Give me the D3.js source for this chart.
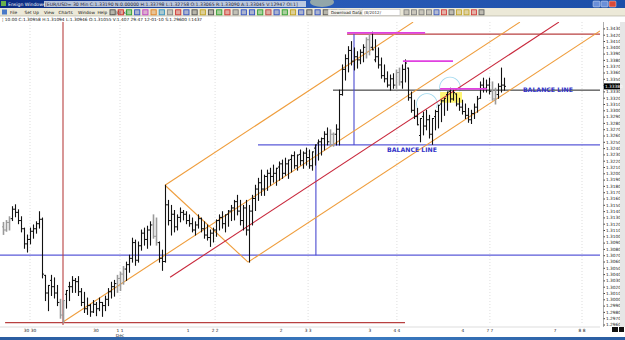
<!DOCTYPE html>
<html><head><meta charset="utf-8">
<script src="https://cdn.jsdelivr.net/npm/d3@7"></script>
<style>
body{margin:0;background:#fff;overflow:hidden}
svg{display:block}
text{font-family:"DejaVu Sans",Arial,sans-serif}
</style>
</head><body>
<svg id="c" width="625" height="340"></svg>
<script>
// ---------- DATA ----------
const highs=[1.3122,1.3125,1.3131,1.3147,1.3150,1.3142,1.3131,1.3113,1.3102,1.3113,
1.3118,1.3123,1.3139,1.3129,1.3038,1.3022,1.3038,1.3034,1.3022,1.3000,
1.2998,1.3014,1.3027,1.3036,1.3033,1.3036,1.3017,1.3011,1.3002,1.2992,
1.2998,1.2995,1.3002,1.2995,1.3005,1.3017,1.3027,1.3030,1.3038,1.3043,
1.3052,1.3059,1.3070,1.3097,1.3094,1.3091,1.3110,1.3113,1.3116,1.3123,
1.3134,1.3129,1.3091,1.3078,1.3181,1.3157,1.3149,1.3141,1.3134,1.3145,
1.3141,1.3139,1.3134,1.3129,1.3123,1.3134,1.3129,1.3123,1.3118,1.3110,
1.3113,1.3126,1.3134,1.3139,1.3134,1.3141,1.3149,1.3157,1.3165,1.3157,
1.3149,1.3157,1.3149,1.3165,1.3181,1.3192,1.3205,1.3197,1.3205,1.3208,
1.3213,1.3208,1.3218,1.3221,1.3224,1.3221,1.3229,1.3234,1.3229,1.3237,
1.3234,1.3240,1.3237,1.3234,1.3245,1.3253,1.3256,1.3266,1.3272,1.3269,
1.3264,1.3277,1.3332,1.3372,1.3388,1.3401,1.3409,1.3399,1.3393,1.3396,
1.3404,1.3415,1.3420,1.3424,1.3412,1.3399,1.3383,1.3372,1.3361,1.3356,
1.3358,1.3364,1.3367,1.3372,1.3380,1.3367,1.3329,1.3316,1.3303,1.3287,
1.3297,1.3300,1.3292,1.3287,1.3300,1.3308,1.3316,1.3319,1.3329,1.3335,
1.3332,1.3326,1.3319,1.3316,1.3310,1.3303,1.3300,1.3310,1.3322,1.3345,
1.3351,1.3348,1.3351,1.3345,1.3335,1.3342,1.3367,1.3351];
const lows=[1.3103,1.3108,1.3110,1.3125,1.3131,1.3120,1.3107,1.3081,1.3075,1.3088,
1.3097,1.3105,1.3113,1.3034,1.2998,1.2982,1.3006,1.3002,1.2990,1.2970,
1.2963,1.2986,1.2998,1.3011,1.3011,1.3006,1.2990,1.2979,1.2976,1.2973,
1.2979,1.2974,1.2982,1.2973,1.2982,1.2990,1.3002,1.3005,1.3011,1.3014,
1.3024,1.3030,1.3043,1.3059,1.3054,1.3059,1.3078,1.3086,1.3081,1.3086,
1.3097,1.3086,1.3059,1.3046,1.3059,1.3118,1.3102,1.3107,1.3110,1.3123,
1.3126,1.3120,1.3116,1.3107,1.3102,1.3113,1.3107,1.3097,1.3094,1.3084,
1.3091,1.3100,1.3110,1.3113,1.3107,1.3116,1.3125,1.3126,1.3134,1.3118,
1.3110,1.3102,1.3059,1.3118,1.3141,1.3157,1.3165,1.3165,1.3173,1.3181,
1.3186,1.3181,1.3189,1.3192,1.3197,1.3192,1.3202,1.3208,1.3205,1.3213,
1.3208,1.3213,1.3208,1.3205,1.3213,1.3221,1.3229,1.3237,1.3245,1.3243,
1.3243,1.3245,1.3245,1.3324,1.3348,1.3361,1.3372,1.3364,1.3367,1.3374,
1.3377,1.3383,1.3388,1.3396,1.3377,1.3367,1.3351,1.3345,1.3337,1.3332,
1.3335,1.3335,1.3340,1.3335,1.3345,1.3316,1.3297,1.3287,1.3277,1.3250,
1.3261,1.3269,1.3256,1.3246,1.3269,1.3272,1.3282,1.3292,1.3300,1.3313,
1.3316,1.3307,1.3300,1.3294,1.3287,1.3281,1.3279,1.3287,1.3297,1.3319,
1.3329,1.3329,1.3326,1.3316,1.3310,1.3319,1.3329,1.3332];
const closes=[1.3110,1.3122,1.3128,1.3143,1.3138,1.3125,1.3112,1.3088,1.3095,1.3108,
1.3112,1.3120,1.3127,1.3040,1.3010,1.3030,1.3020,1.3010,1.2995,1.2975,
1.3008,1.3020,1.3020,1.3030,1.3028,1.3012,1.2995,1.2985,1.2990,1.2980,
1.2992,1.2985,1.2995,1.2990,1.3000,1.3012,1.3020,1.3025,1.3033,1.3040,
1.3048,1.3055,1.3065,1.3090,1.3062,1.3085,1.3105,1.3095,1.3110,1.3118,
1.3100,1.3090,1.3065,1.3060,1.3150,1.3125,1.3135,1.3115,1.3130,1.3138,
1.3135,1.3125,1.3120,1.3110,1.3118,1.3128,1.3112,1.3102,1.3098,1.3105,
1.3110,1.3125,1.3130,1.3120,1.3135,1.3140,1.3145,1.3155,1.3140,1.3125,
1.3145,1.3110,1.3140,1.3160,1.3175,1.3185,1.3175,1.3195,1.3200,1.3195,
1.3200,1.3210,1.3215,1.3200,1.3215,1.3222,1.3228,1.3212,1.3230,1.3220,
1.3232,1.3225,1.3212,1.3240,1.3248,1.3250,1.3255,1.3262,1.3250,1.3262,
1.3262,1.3270,1.3325,1.3365,1.3382,1.3395,1.3378,1.3385,1.3380,1.3392,
1.3400,1.3412,1.3400,1.3380,1.3385,1.3372,1.3355,1.3350,1.3340,1.3350,
1.3340,1.3360,1.3345,1.3365,1.3375,1.3320,1.3300,1.3290,1.3260,1.3290,
1.3275,1.3285,1.3262,1.3290,1.3298,1.3310,1.3315,1.3325,1.3330,1.3318,
1.3328,1.3310,1.3305,1.3298,1.3292,1.3285,1.3295,1.3305,1.3318,1.3340,
1.3335,1.3340,1.3330,1.3318,1.3325,1.3338,1.3340,1.3338];
const firstOpen=1.3115;
const grayBars=[0,1,2,19,20,38,39,40,50,51,109,110,121,122,131,132,163,164];

// x-axis (bar index) labels
const xTickIdx=[9,31,39,61.7,70.7,92.7,101.7,122.3,131.3,153.3,162.3,184,193];
const xTickLabels=["30 30","30","1 1","1","2 2","2","3 3","3","4 4","4","7 7","7","8 8"];
const daySeparators=[9,39,70.7,101.7,131.3,162.3,193];
const monthLabel={idx:39,text:"Dec"};

// drawn study lines (bar index, price)
const channelLines=[[[20,1.2964],[172.3,1.3440]],[[54,1.3181],[136.7,1.3440]],[[81.7,1.3059],[199,1.3426]]];
const handleLine=[[54,1.3181],[81.7,1.3059]];
const medianLine=[[55.7,1.3035],[185.3,1.3440]];
const redVerticalIdx=20;
const redHLines=[{p:1.2963,a:0.7,b:134},{p:1.3421,a:114.7,b:199}];
const blueHLines=[{p:1.3070,a:-1,b:199},{p:1.3245,a:85,b:199}];
const blackHLines=[{p:1.3332,a:110,b:199}];
const blueVLines=[{i:117,p1:1.3421,p2:1.3245},{i:104.3,p1:1.3245,p2:1.3070}];
const magentaLines=[{p:1.3423,a:114.7,b:140.7},{p:1.3378,a:133.3,b:150},{p:1.3334,a:145.7,b:161.3}];
const yellowBox={a:145.7,b:153,p1:1.3312,p2:1.3329};
const circles=[[141.3,1.3310],[149,1.3336]];
const balanceLabels=[{i:128,p:1.3237,t:"BALANCE LINE"},{i:173.3,p:1.3333,t:"BALANCE LINE"}];
const lastPrice=1.3338;

const titleText="Ensign Windows - [EUR/USD= 30 Min C:1.33190 N:0.00000 H:1.33798 L:1.32758 O:1.33065 R:1.33090 A:1.33045 V:12947 OI:1]";
const menuItems=["File","Set Up","View","Charts","Window","Help"];
const infoText="10:00   C:1.30958   H:1.31094   L:1.30946   O:1.31055   V:1.407   29:47   12-01-10   S:1.29600   I:1437";

// ---------- DRAW ----------
const svg=d3.select("#c");
const W=625,H=340;
const plotL=0,plotR=600,plotT=22,plotB=325;

const x=d3.scaleLinear().domain([0,199]).range([3,600]);
const y=d3.scaleLinear().domain([1.2950,1.3430]).range([330.8,28.4]);

// header
const defs=svg.append("defs");
const g1=defs.append("linearGradient").attr("id","tb").attr("x1",0).attr("x2",1);
g1.append("stop").attr("offset","0").attr("stop-color","#0a2a80");
g1.append("stop").attr("offset","0.5").attr("stop-color","#2a5cb8");
g1.append("stop").attr("offset","1").attr("stop-color","#1b4ea8");
svg.append("rect").attr("x",0).attr("y",0).attr("width",W).attr("height",8).attr("fill","url(#tb)");
svg.append("ellipse").attr("cx",322).attr("cy",2).attr("rx",12).attr("ry",5).attr("fill","#d8d8a0").attr("opacity",0.6);
svg.append("rect").attr("x",1).attr("y",1).attr("width",5).attr("height",5).attr("fill","#6ab04c");
svg.append("rect").attr("x",44).attr("y",1).attr("width",262).attr("height",6).attr("fill","#d6dde8").attr("opacity",0.85);
svg.append("text").attr("x",8).attr("y",6).attr("font-size",4.6).attr("fill","#fff").text("Ensign Windows - ");
svg.append("text").attr("x",45).attr("y",6).attr("font-size",4.6).attr("fill","#223").text(titleText.slice(17));
[["#6a8fd8",593],["#6a8fd8",601],["#d84a3a",609]].forEach(([c,xx])=>{
  svg.append("rect").attr("x",xx).attr("y",1).attr("width",7).attr("height",6).attr("rx",1).attr("fill",c).attr("stroke","#fff").attr("stroke-width",0.4);
});
svg.append("rect").attr("x",0).attr("y",8).attr("width",W).attr("height",8).attr("fill","#ece9d8");
svg.append("line").attr("x1",0).attr("x2",W).attr("y1",16).attr("y2",16).attr("stroke","#aca899").attr("stroke-width",0.6);
let mx=10;
svg.append("rect").attr("x",2).attr("y",9.5).attr("width",5).attr("height",5).attr("fill","#4a7ac8");
menuItems.forEach(m=>{
  svg.append("text").attr("x",mx).attr("y",14).attr("font-size",4.3).attr("fill","#111").text(m);
  mx+=m.length*2.4+5;
});
svg.append("text").attr("x",mx).attr("y",14).attr("font-size",4.3).attr("fill","#111").text("_ |ð| ×|");
const iconColors=["#555","#d03030","#30a030","#3050c0","#c040c0","#e08020","#3090c0","#888","#d03030","#3050c0","#555","#c0a020","#555","#30a030","#d03030",
"#777","#3050c0","#3050c0","#30a030","#c04040","#3050c0","#30a030","#c0a020","#3050c0","#555","#3050c0","#555",
"#444","#30a030"];
iconColors.forEach((c,k)=>{
  const ix=110+k*8.2;
  svg.append("rect").attr("x",ix).attr("y",9.8).attr("width",5.2).attr("height",5).attr("fill",c).attr("fill-opacity",0.35).attr("stroke",c).attr("stroke-width",0.9);
});
svg.append("rect").attr("x",328).attr("y",9.2).attr("width",32).attr("height",6.3).attr("fill","#f4f3ee").attr("stroke","#999").attr("stroke-width",0.4);
svg.append("text").attr("x",331).attr("y",14).attr("font-size",4).attr("fill","#111").text("Download Data");
svg.append("rect").attr("x",362).attr("y",9.2).attr("width",38).attr("height",6.3).attr("fill","#fff").attr("stroke","#999").attr("stroke-width",0.4);
svg.append("text").attr("x",364).attr("y",14).attr("font-size",4).attr("fill","#333").text("(8/2012/");
["#777","#777","#777","#777","#3050c0","#d03030","#555","#c0a020","#c0a020","#d03030","#555"].forEach((c,k)=>{
  svg.append("rect").attr("x",404+k*7.5).attr("y",9.8).attr("width",5).attr("height",5).attr("fill",c).attr("fill-opacity",0.3).attr("stroke",c).attr("stroke-width",0.8);
});
svg.append("text").attr("x",2).attr("y",21).attr("font-size",4.3).attr("fill","#111").text("¦ "+infoText);

// plot clip
defs.append("clipPath").attr("id","pc").append("rect").attr("x",plotL).attr("y",plotT).attr("width",plotR-plotL).attr("height",plotB-plotT);
const P=svg.append("g").attr("clip-path","url(#pc)");

// day separators
P.selectAll("line.sep").data(daySeparators).join("line").attr("class","sep")
 .attr("x1",d=>x(d)).attr("x2",d=>x(d)).attr("y1",plotT).attr("y2",plotB)
 .attr("stroke","#c8c8c8").attr("stroke-width",0.6).attr("stroke-dasharray","1,2");

// yellow box & circles
P.append("rect").attr("x",x(yellowBox.a)).attr("width",x(yellowBox.b)-x(yellowBox.a))
 .attr("y",y(yellowBox.p2)).attr("height",y(yellowBox.p1)-y(yellowBox.p2)).attr("fill","#fff45a").attr("opacity",0.85);
const arc=d3.arc().innerRadius(10).outerRadius(10.8).startAngle(-Math.PI*0.62).endAngle(Math.PI*0.62);
circles.forEach(c=>{
  P.append("path").attr("d",arc()).attr("transform",`translate(${x(c[0])},${y(c[1])})`).attr("fill","#9fd8ee");
});

// horizontal/vertical study lines
const hl=(arr,color,w)=>P.selectAll(null).data(arr).join("line")
 .attr("x1",d=>x(d.a)).attr("x2",d=>x(d.b)).attr("y1",d=>y(d.p)).attr("y2",d=>y(d.p))
 .attr("stroke",color).attr("stroke-width",w);
hl(blueHLines,"#5a5ad8",1.3);
hl(blackHLines,"#222",1);
hl(redHLines,"#b84040",1.2);
P.append("line").attr("x1",x(redVerticalIdx)).attr("x2",x(redVerticalIdx)).attr("y1",plotT).attr("y2",plotB)
 .attr("stroke","#b84040").attr("stroke-width",1.1);
P.selectAll(null).data(blueVLines).join("line")
 .attr("x1",d=>x(d.i)).attr("x2",d=>x(d.i)).attr("y1",d=>y(d.p1)).attr("y2",d=>y(d.p2))
 .attr("stroke","#4a4ad0").attr("stroke-width",1.1);

// pitchfork / channel lines
const ln=d3.line().x(d=>x(d[0])).y(d=>y(d[1]));
channelLines.forEach(l=>P.append("path").attr("d",ln(l)).attr("stroke","#ef9d3c").attr("stroke-width",1.1).attr("fill","none"));
P.append("path").attr("d",ln(handleLine)).attr("stroke","#ef9d3c").attr("stroke-width",1.1).attr("fill","none");
P.append("path").attr("d",ln(medianLine)).attr("stroke","#c8283c").attr("stroke-width",1.1).attr("fill","none");

// OHLC bars
const bars=highs.map((h,i)=>{
  const o=i===0?firstOpen:closes[i-1];
  return {i,h,l:lows[i],o:Math.max(lows[i],Math.min(h,o)),c:Math.max(lows[i],Math.min(h,closes[i])),gray:grayBars.includes(i)};
});
const bg=P.append("g");
bars.forEach(b=>{
  const col=b.gray?"#9a9a9a":"#111";
  const w=b.gray?1.6:1.1;
  const xx=Math.round(x(b.i))+0.5;
  bg.append("line").attr("x1",xx).attr("x2",xx).attr("y1",y(b.h)-0.5).attr("y2",y(b.l)+0.5).attr("stroke",col).attr("stroke-width",w);
  bg.append("line").attr("x1",xx-1.5).attr("x2",xx).attr("y1",y(b.o)).attr("y2",y(b.o)).attr("stroke",col).attr("stroke-width",1);
  bg.append("line").attr("x1",xx).attr("x2",xx+1.5).attr("y1",y(b.c)).attr("y2",y(b.c)).attr("stroke",col).attr("stroke-width",1);
});

// magenta segments on top
hl(magentaLines,"#e040e0",1.8);

// labels
P.selectAll(null).data(balanceLabels).join("text")
 .attr("x",d=>x(d.i)).attr("y",d=>y(d.p)+2.5).attr("font-size",6.2).attr("font-weight","bold")
 .attr("fill","#3535c8").text(d=>d.t);

// right price axis
svg.append("rect").attr("x",600).attr("y",22).attr("width",25).attr("height",305).attr("fill","#fff");
svg.append("line").attr("x1",603.5).attr("x2",603.5).attr("y1",22).attr("y2",327).attr("stroke","#777").attr("stroke-width",0.6);
const yAxis=d3.axisRight(y).ticks(50).tickFormat(d3.format(".5f")).tickSize(1.5).tickPadding(1);
const ga=svg.append("g").attr("transform","translate(603.5,0)").call(yAxis);
ga.select(".domain").remove();
ga.selectAll("text").attr("font-size",4.3).attr("fill","#222");
ga.selectAll("line").attr("stroke","#444");
ga.selectAll(".tick").filter(d=>y(d)<24||y(d)>330).remove();
svg.append("rect").attr("x",620).attr("y",22).attr("width",5).attr("height",305).attr("fill","#e6e6e6");
svg.append("rect").attr("x",604).attr("y",y(lastPrice)-3).attr("width",16).attr("height",6).attr("fill","#000");
svg.append("text").attr("x",605).attr("y",y(lastPrice)+1.6).attr("font-size",4.3).attr("fill","#fff").text(d3.format(".5f")(lastPrice));

// bottom axis
svg.append("line").attr("x1",0).attr("x2",600).attr("y1",327).attr("y2",327).attr("stroke","#bbb").attr("stroke-width",0.5);
svg.selectAll(null).data(xTickIdx).join("text")
 .attr("x",d=>x(d)).attr("y",332).attr("text-anchor","middle").attr("font-size",4.3).attr("fill","#222")
 .text((d,k)=>xTickLabels[k]);
svg.append("text").attr("x",x(monthLabel.idx)).attr("y",336.5).attr("text-anchor","middle").attr("font-size",4.3).attr("fill","#222").text(monthLabel.text);
svg.append("rect").attr("x",612).attr("y",327).attr("width",6).attr("height",5).attr("fill","#111");
svg.append("rect").attr("x",619).attr("y",327).attr("width",5).attr("height",5).attr("fill","#111");

// taskbar
const g2=defs.append("linearGradient").attr("id","task").attr("x1",0).attr("x2",1);
g2.append("stop").attr("offset","0").attr("stop-color","#2a5ca0");
g2.append("stop").attr("offset","0.6").attr("stop-color","#3a7ac0");
g2.append("stop").attr("offset","1").attr("stop-color","#2a5ca0");
svg.append("rect").attr("x",0).attr("y",337).attr("width",W).attr("height",3).attr("fill","url(#task)");
</script>
</body></html>
